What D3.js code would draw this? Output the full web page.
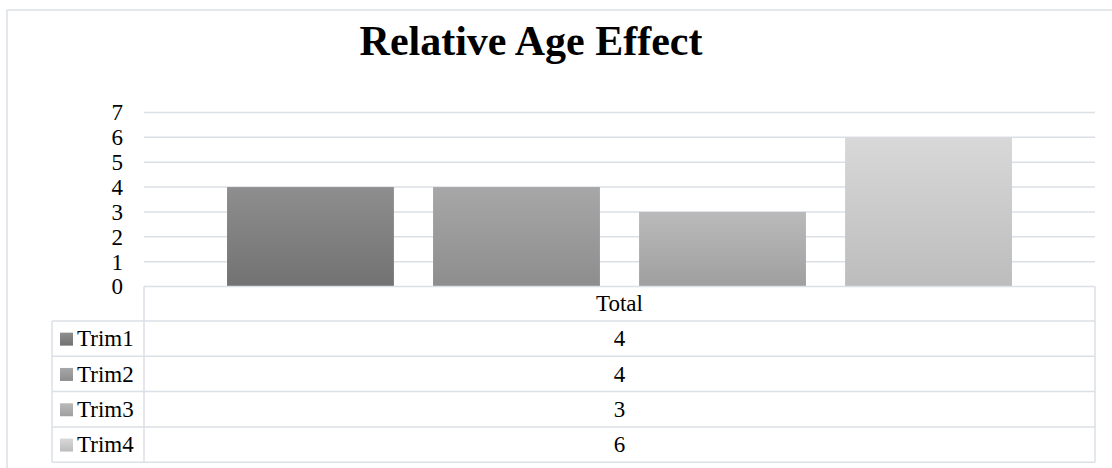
<!DOCTYPE html>
<html>
<head>
<meta charset="utf-8">
<script src="https://cdn.jsdelivr.net/npm/d3@7"></script>
<style>
  html, body { margin: 0; padding: 0; background: #ffffff; overflow: hidden; }
  svg { display: block; }
  text { font-family: "Liberation Serif", "Times New Roman", serif; fill: #000; }
</style>
</head>
<body>
<svg id="chart" width="1112" height="468"></svg>
<script>
// Chart data
const title = "Relative Age Effect";
const categories = ["Total"];
const seriesNames = ["Trim1", "Trim2", "Trim3", "Trim4"];
const seriesValues = [4, 4, 3, 6];
const yTicks = [0, 1, 2, 3, 4, 5, 6, 7];

// Gradient stops per series (top, bottom)
const seriesColors = [
  ["#8e8e8e", "#727272"],
  ["#a7a7a7", "#8d8d8d"],
  ["#bababa", "#9f9f9f"],
  ["#d8d8d8", "#bcbcbc"]
];

const svg = d3.select("#chart");
const gridColor = "#dbdfe6";

// Outer chart frame: only the top and left edges fall inside the canvas
const frame = svg.append("g").attr("stroke", gridColor).attr("stroke-width", 1.5);
frame.append("line").attr("x1", 7).attr("x2", 1112).attr("y1", 10).attr("y2", 10);
frame.append("line").attr("x1", 7).attr("x2", 7).attr("y1", 10).attr("y2", 468);

// Title
svg.append("text")
  .attr("x", 531).attr("y", 55)
  .attr("text-anchor", "middle")
  .style("font-size", "42px").style("font-weight", "bold")
  .text(title);

// Plot area
const plotLeft = 144, plotRight = 1095;
const y = d3.scaleLinear().domain([0, 7]).range([286.5, 112.5]);
const x = d3.scaleBand().domain(seriesNames)
  .range([plotLeft, plotRight])
  .paddingInner(0.19).paddingOuter(0.403);

// Gradients
const defs = svg.append("defs");
seriesNames.forEach((s, i) => {
  const g = defs.append("linearGradient")
    .attr("id", "grad" + i)
    .attr("x1", 0).attr("y1", 0).attr("x2", 0).attr("y2", 1);
  g.append("stop").attr("offset", "0%").attr("stop-color", seriesColors[i][0]);
  g.append("stop").attr("offset", "100%").attr("stop-color", seriesColors[i][1]);
});

// Gridlines
svg.append("g").selectAll("line")
  .data(yTicks.filter(d => d > 0))
  .join("line")
  .attr("x1", plotLeft).attr("x2", plotRight)
  .attr("y1", d => y(d)).attr("y2", d => y(d))
  .attr("stroke", gridColor).attr("stroke-width", 1.5);

// Y axis labels
const yAxis = d3.axisLeft(y).tickValues(yTicks).tickSize(0).tickPadding(0).tickFormat(d3.format("d"));
const yg = svg.append("g").attr("transform", "translate(123,0)").call(yAxis);
yg.select(".domain").remove();
yg.selectAll("text")
  .style("font-family", "'Liberation Serif', 'Times New Roman', serif")
  .style("font-size", "23px").attr("fill", "#000");

// Bars
svg.append("g").selectAll("rect")
  .data(seriesValues)
  .join("rect")
  .attr("x", (d, i) => x(seriesNames[i]))
  .attr("width", x.bandwidth())
  .attr("y", d => y(d))
  .attr("height", d => y(0) - y(d))
  .attr("fill", (d, i) => "url(#grad" + i + ")");

// Data table
const rowH = 35.3;
const tableTop = y(0);
const headerBottom = tableTop + 34.5;
const legendLeft = 52;
const tbl = svg.append("g");
const rowTop = i => headerBottom + i * rowH;
const tableBottom = rowTop(seriesNames.length);

// Header cell and outer table edges
tbl.append("line").attr("x1", plotLeft).attr("x2", plotRight).attr("y1", tableTop).attr("y2", tableTop);
tbl.append("line").attr("x1", plotLeft).attr("x2", plotLeft).attr("y1", tableTop).attr("y2", tableBottom);
tbl.append("line").attr("x1", plotRight).attr("x2", plotRight).attr("y1", tableTop).attr("y2", tableBottom);
tbl.append("line").attr("x1", legendLeft).attr("x2", legendLeft).attr("y1", headerBottom).attr("y2", tableBottom);
// Row separators
tbl.selectAll("line.row")
  .data(d3.range(seriesNames.length + 1))
  .join("line").attr("class", "row")
  .attr("x1", legendLeft).attr("x2", plotRight)
  .attr("y1", d => rowTop(d)).attr("y2", d => rowTop(d));
tbl.selectAll("line").attr("stroke", gridColor).attr("stroke-width", 1.5);

const tableCenter = (plotLeft + plotRight) / 2;
svg.append("text")
  .attr("x", tableCenter).attr("y", (tableTop + headerBottom) / 2 + 7.6)
  .attr("text-anchor", "middle").style("font-size", "23px")
  .text(categories[0]);

const rows = svg.append("g").selectAll("g")
  .data(seriesNames)
  .join("g")
  .attr("transform", (d, i) => `translate(0,${rowTop(i) + rowH / 2})`);

rows.append("rect")
  .attr("x", 60).attr("y", -6).attr("width", 13).attr("height", 13)
  .attr("fill", (d, i) => "url(#grad" + i + ")");
rows.append("text")
  .attr("x", 77).attr("y", 7.6)
  .style("font-size", "23px")
  .text(d => d);
rows.append("text")
  .attr("x", tableCenter).attr("y", 7.6)
  .attr("text-anchor", "middle").style("font-size", "23px")
  .text((d, i) => seriesValues[i]);
</script>
</body>
</html>
